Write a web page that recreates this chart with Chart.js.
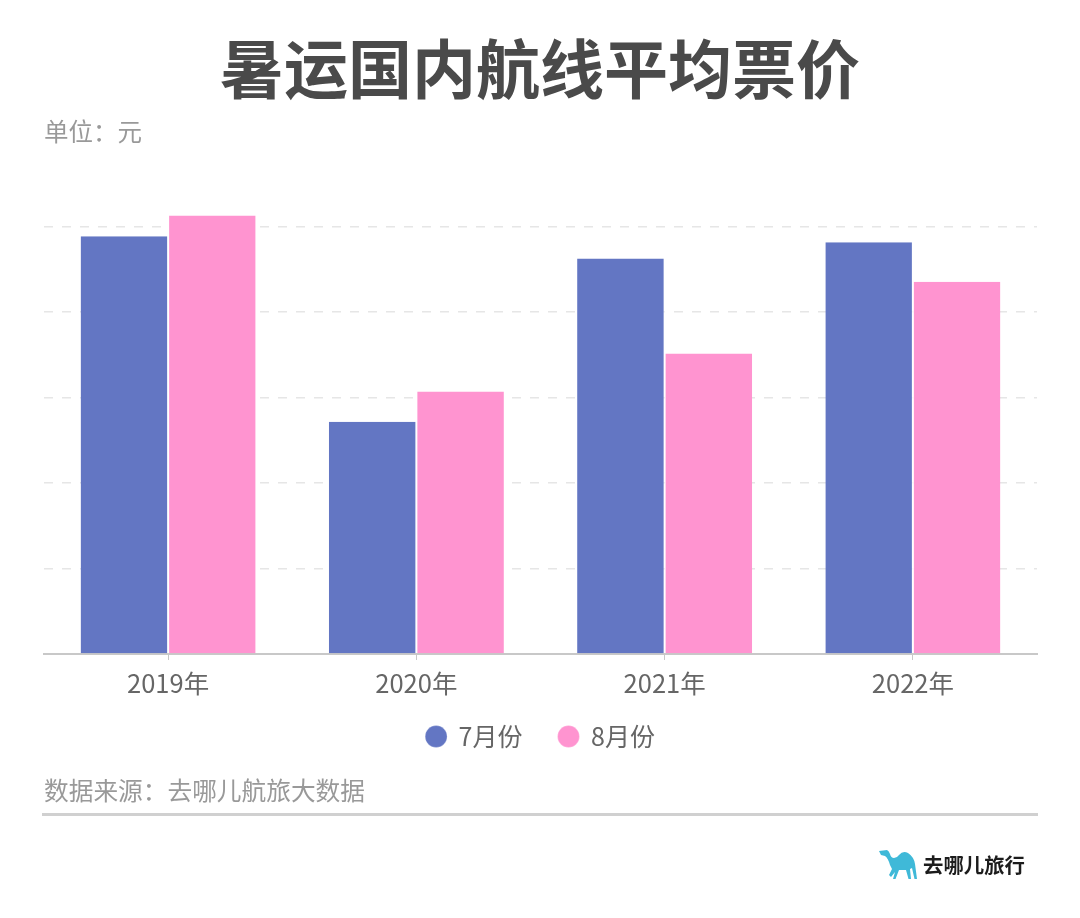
<!DOCTYPE html>
<html>
<head>
<meta charset="utf-8">
<script src="https://cdn.jsdelivr.net/npm/chart.js@4"></script>
<style>
  body { margin: 0; background: #fff; font-family: "Noto Sans CJK SC", sans-serif; }
  .wrap { position: relative; width: 1080px; height: 918px; overflow: hidden; }
  canvas { position: absolute; left: 0; top: 0; }
  .txt { position: absolute; white-space: nowrap; line-height: 1; }
  .title { left: 0; width: 1080px; top: 33px; text-align: center; font-size: 64px; font-weight: 700; color: #4a4a4a; }
  .unit { left: 44px; top: 119px; font-size: 24.5px; color: #999; }
  .source { left: 44px; top: 777px; font-size: 24.7px; color: #999; }
  .rule { position: absolute; left: 42px; top: 813px; width: 996px; height: 3px; background: #d0d0d0; }
  .brand { left: 923px; top: 854px; font-size: 20.4px; font-weight: 700; color: #1c1c1c; }
  .camel { position: absolute; left: 879px; top: 850px; }
</style>
</head>
<body>
<div class="wrap">
  <canvas id="myChart" width="1080" height="918"></canvas>
  <div class="txt title">暑运国内航线平均票价</div>
  <div class="txt unit">单位：元</div>
  <div class="txt source">数据来源：去哪儿航旅大数据</div>
  <div class="rule"></div>
  <svg class="camel" width="38" height="30" viewBox="0 0 38 30">
    <path fill="#3fb9d8" d="M0 1 L8 0 Q10 1 11 4 Q12 8 15 8 Q18 8 20 5 Q24 0 29 3 Q35 7 36 14 L38 29 L35.5 29 L33 18 L31 19 L32 29 L29.5 29 L27 20 L20 20 L16.5 29 L14 29 L16 22 L12 27 L10 25 L13 19 L11 15 Q9 8 6 6 L2 5 Z"/>
  </svg>
  <div class="txt brand">去哪儿旅行</div>
</div>
<script>
const categories = ["2019年", "2020年", "2021年", "2022年"];
const julyValues = [977, 543, 925, 963];
const augustValues = [1026, 614, 703, 871];
const yTicksMax = 1200;

const ctx = document.getElementById("myChart");

// legend sits closer to the axis than its own padding allows
const legendShift = {
  id: "legendShift",
  afterLayout(chart) {
    chart.legend.top -= 14;
  },
};

new Chart(ctx, {
  type: "bar",
  plugins: [legendShift],
  data: {
    labels: categories,
    datasets: [
      {
        label: "7月份",
        data: julyValues,
        backgroundColor: "#6376c3",
        borderColor: "#fff",
        borderWidth: { left: 0, right: 1, top: 0, bottom: 0 },
      },
      {
        label: "8月份",
        data: augustValues,
        backgroundColor: "#ff94d0",
        borderColor: "#fff",
        borderWidth: { left: 1, right: 0, top: 0, bottom: 0 },
      },
    ],
  },
  options: {
    responsive: false,
    animation: false,
    categoryPercentage: 0.705,
    barPercentage: 1,
    layout: { padding: { left: 44, right: 43, top: 141, bottom: 145 } },
    plugins: {
      legend: {
        position: "bottom",
        labels: {
          usePointStyle: true,
          pointStyle: "circle",
          boxWidth: 20,
          boxHeight: 15.5,
          padding: 36,
          color: "#666",
          font: { family: "'Noto Sans CJK SC'", size: 25 },
        },
      },
      tooltip: { enabled: false },
    },
    scales: {
      x: {
        afterFit: (scale) => {
          scale.height = 48;
        },
        border: { color: "#c8c8c8", width: 2 },
        grid: { drawOnChartArea: false, offset: false, tickLength: 6, color: "#c8c8c8" },
        ticks: {
          color: "#666",
          padding: 8,
          font: { family: "'Noto Sans CJK SC'", size: 25.5 },
        },
      },
      y: {
        min: 0,
        max: yTicksMax,
        border: { display: false, dash: [9, 9] },
        grid: {
          drawTicks: false,
          lineWidth: 1.5,
          color: (c) => (c.tick.value === 0 || c.tick.value === yTicksMax ? "transparent" : "#e6e6e6"),
        },
        ticks: { display: false, stepSize: 200 },
      },
    },
  },
});
</script>
</body>
</html>
